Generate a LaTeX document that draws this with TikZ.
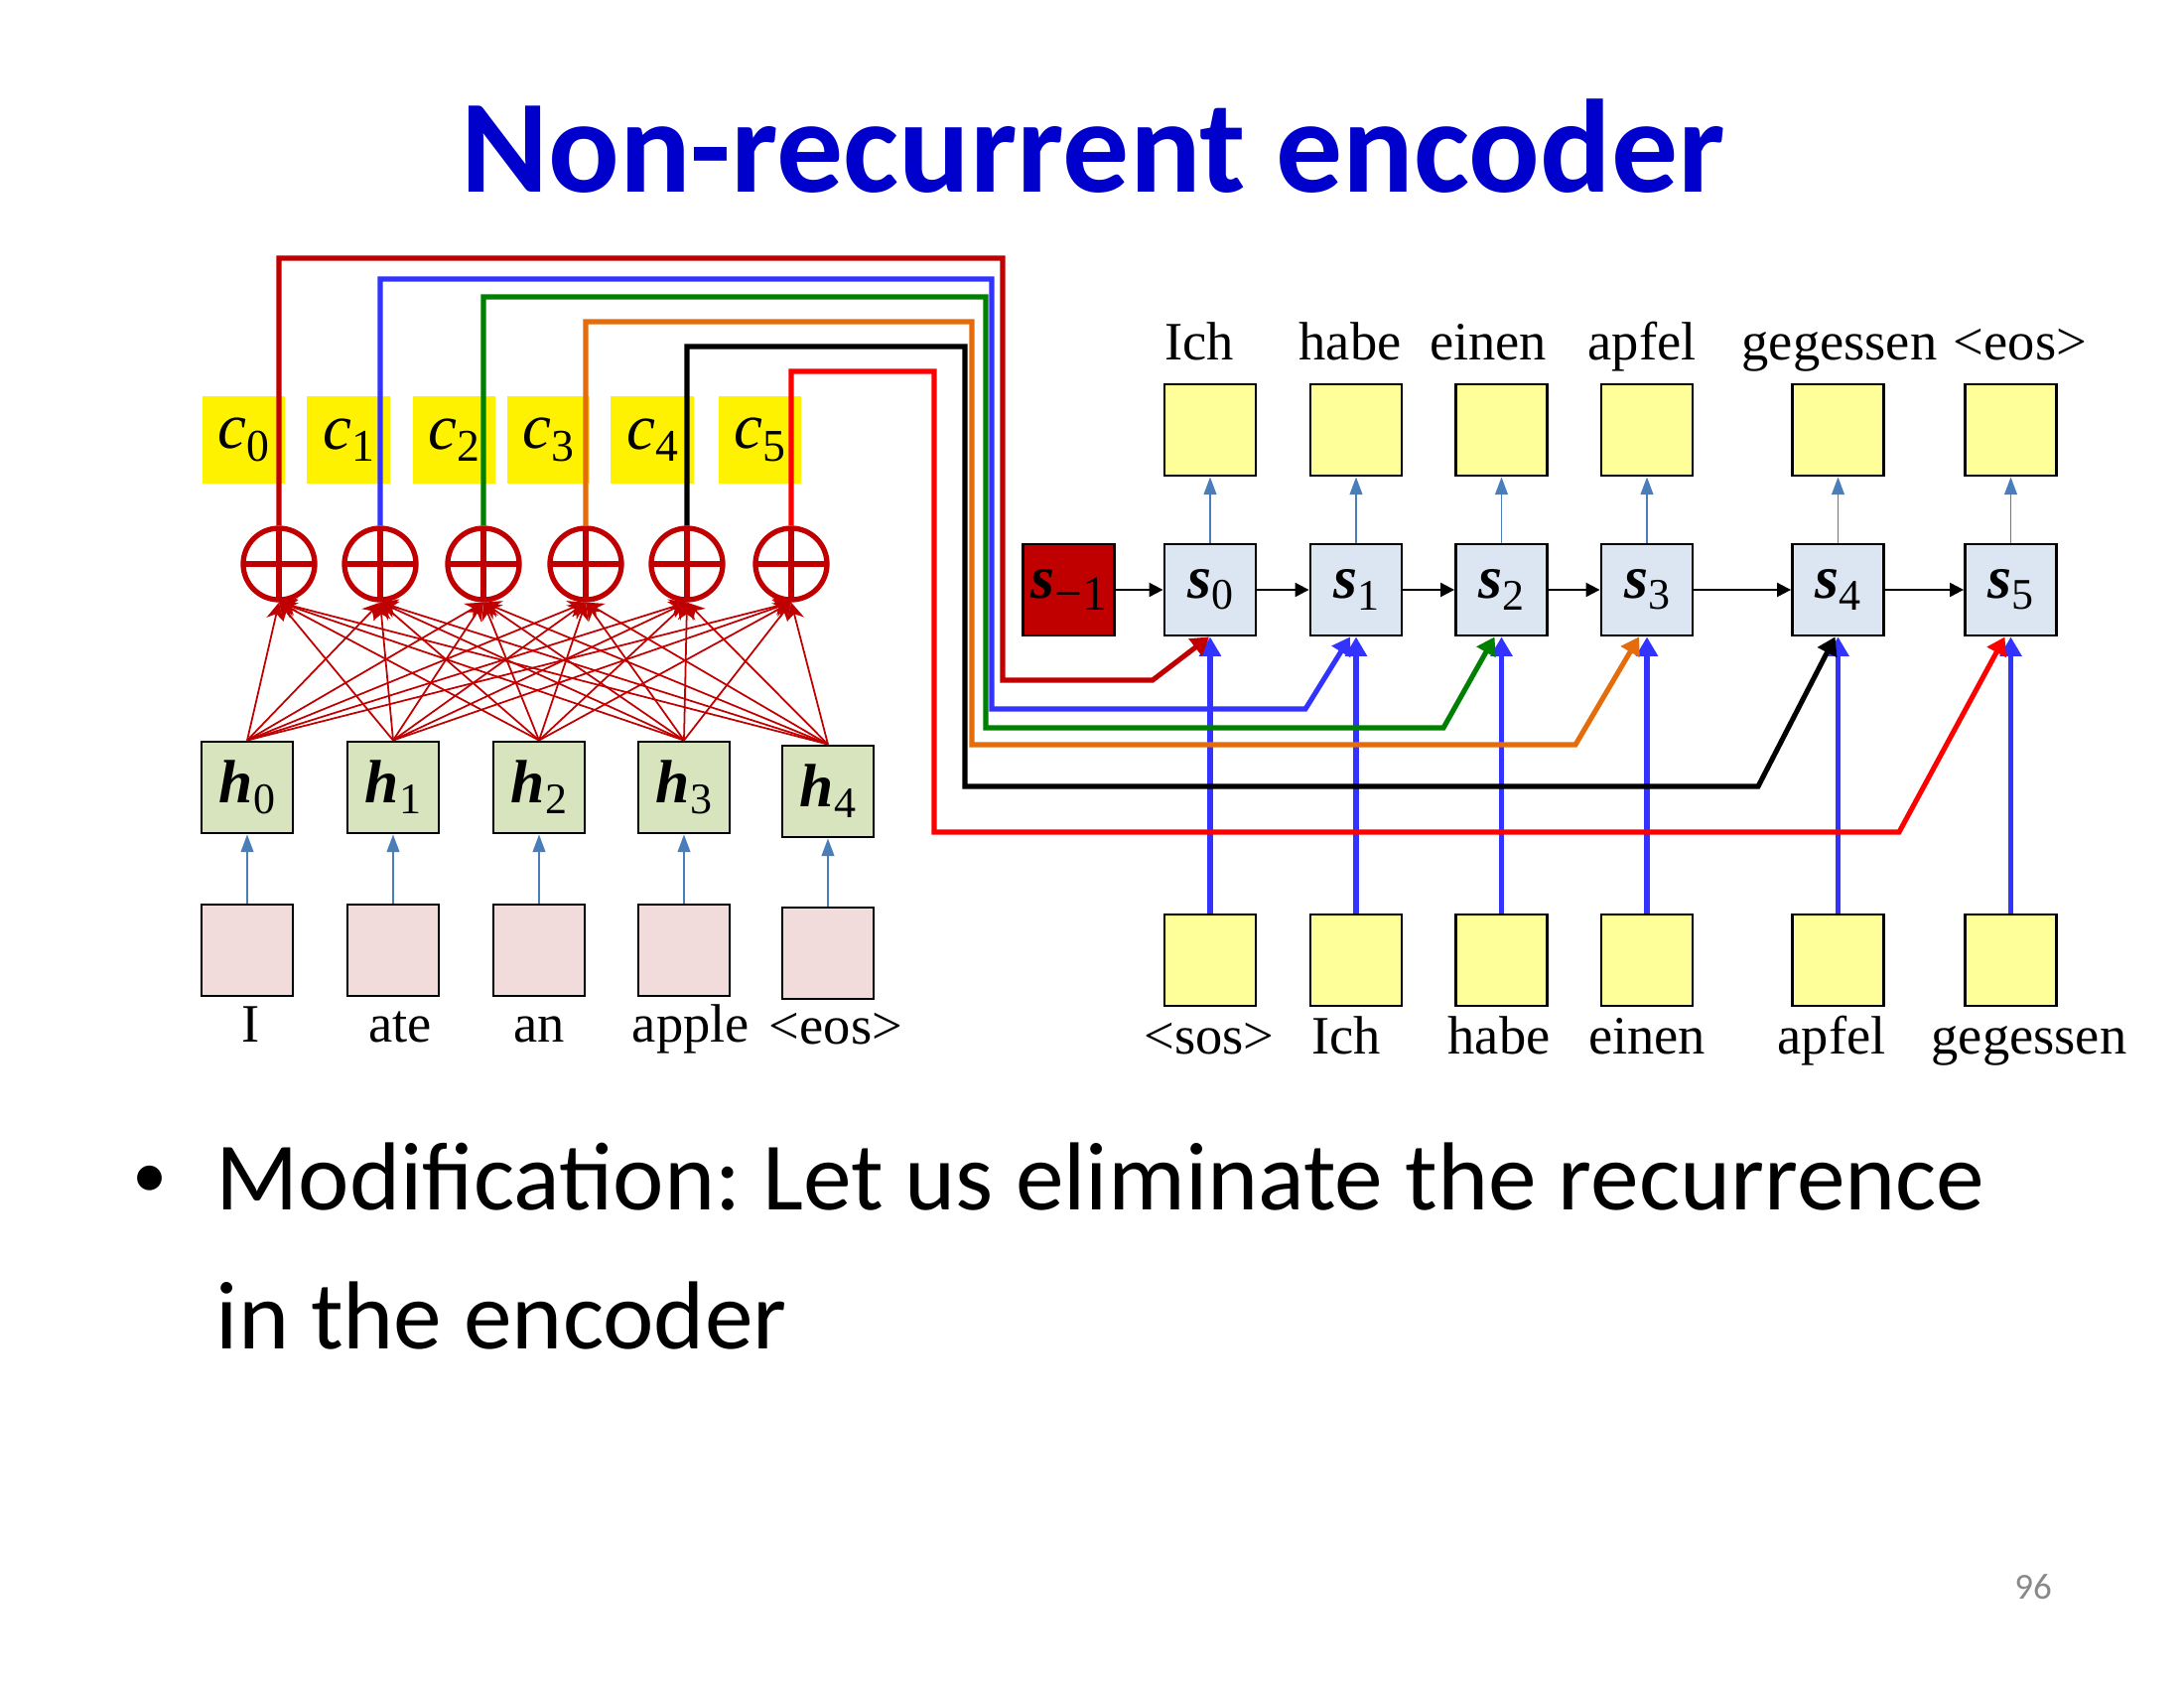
\documentclass[tikz,border=0pt]{standalone}
\usepackage{fontspec}
\setmainfont{Liberation Serif}
\newfontfamily\calibri{Carlito}
\usetikzlibrary{arrows.meta}
\frenchspacing

\definecolor{dred}{HTML}{C00000}
\definecolor{cblue}{HTML}{3333FF}
\definecolor{cgreen}{HTML}{008000}
\definecolor{corange}{HTML}{E46C0A}
\definecolor{cred}{HTML}{FF0000}
\definecolor{titleblue}{HTML}{0000CC}
\definecolor{hgreen}{HTML}{D7E4BD}
\definecolor{xpink}{HTML}{F2DCDB}
\definecolor{sblue}{HTML}{DCE6F2}
\definecolor{lyellow}{HTML}{FFFF99}
\definecolor{steel}{HTML}{4A7EBB}
\definecolor{pgray}{HTML}{898989}

% bold italic vector name with an upright subscript
\newcommand\bv[2]{{\bfseries\itshape #1}\raisebox{-3.2pt}{\fontsize{12.5}{14}\selectfont #2}}
% italic context name with an upright subscript
\newcommand\cv[2]{{\itshape #1}\raisebox{-3.5pt}{\fontsize{13}{14}\selectfont #2}}

\begin{document}
\begin{tikzpicture}[x=0.01cm,y=-0.01cm,
  cell/.style={draw=black, line width=0.8pt, minimum width=0.92cm, minimum height=0.92cm, inner sep=0pt},
  hcell/.style={cell, fill=hgreen, font=\fontsize{17.5}{20}\selectfont},
  xcell/.style={cell, fill=xpink},
  scell/.style={cell, fill=sblue, font=\fontsize{17.5}{20}\selectfont},
  ycell/.style={cell, fill=lyellow},
  ctx/.style={fill=yellow, minimum width=0.83cm, minimum height=0.88cm, inner sep=0pt, font=\fontsize{18.5}{20}\selectfont},
  plus/.style={circle, draw=dred, line width=1.5pt, minimum size=0.72cm, inner sep=0pt,
    path picture={\draw[dred, line width=1.5pt]
      (path picture bounding box.north) -- (path picture bounding box.south)
      (path picture bounding box.west) -- (path picture bounding box.east);}},
  word/.style={anchor=base, inner sep=0pt, font=\fontsize{15.5}{18}\selectfont},
  fan/.style={dred, line width=0.5pt, -{Stealth[length=5pt,width=5pt]}},
  feed/.style={steel, line width=0.5pt, -{Triangle[length=5pt,width=3.6pt]}},
  chain/.style={black, line width=0.6pt, -{Triangle[length=4pt,width=4pt]}},
  embed/.style={cblue, line width=1.5pt, -{Triangle[length=5.5pt,width=6pt]}},
  route/.style={line width=1.45pt, -{Triangle[length=5pt,width=6pt]}}
]
\useasboundingbox[fill=white] (0,0) rectangle (2200,1700);

% title
\node[anchor=base, inner sep=0pt, text=titleblue] (title) at (1101,194)
  {\calibri\bfseries\fontsize{38}{42}\selectfont Non-recurrent encoder};

% encoder inputs and hidden states
\foreach \i/\x/\yh/\yx in {0/249/793/957, 1/396/793/957, 2/543/793/957, 3/689/793/957, 4/834/797/960}{
  \node[xcell] (x\i) at (\x,\yx) {};
  \node[hcell] (h\i) at (\x,\yh) {\bv{h}{\i}};
  \draw[feed] (x\i.north) -- (h\i.south);
}
\node[word] (w0) at (253,1049) {I};
\node[word] (w1) at (403,1049) {ate};
\node[word] (w2) at (543,1049) {an};
\node[word] (w3) at (696,1049) {apple};
\node[word] (w4) at (842,1051) {<eos>};

% context vectors
\foreach \i/\x in {0/245.5, 1/351, 2/457.5, 3/552.5, 4/657, 5/765.5}{
  \node[ctx] (c\i) at (\x,443) {\cv{c}{\i}};
}

% summation units
\foreach \i/\x in {0/281, 1/383, 2/487, 3/590, 4/692, 5/797}{
  \node[plus] (p\i) at (\x,568) {};
}

% every hidden state feeds every sum
\foreach \i in {0,...,4}{
  \foreach \j in {0,...,5}{
    \draw[fan] (h\i.north) -- (p\j.south);
  }
}

% decoder
\node[cell, fill=dred, font=\fontsize{17.5}{20}\selectfont] (sm) at (1076.5,594) {\bv{s}{\fontsize{14}{14}\selectfont −1}};
\foreach \i/\x in {0/1219, 1/1366, 2/1512.5, 3/1659, 4/1851.5, 5/2025.5}{
  \node[scell] (s\i) at (\x,594) {\bv{s}{\i}};
  \node[ycell] (t\i) at (\x,433) {};
  \node[ycell] (b\i) at (\x,967) {};
  \draw[feed] (s\i.north) -- (t\i.south);
  \draw[embed] (b\i.north) -- (s\i.south);
}
\draw[chain] (sm.east) -- (s0.west);
\draw[chain] (s0.east) -- (s1.west);
\draw[chain] (s1.east) -- (s2.west);
\draw[chain] (s2.east) -- (s3.west);
\draw[chain] (s3.east) -- (s4.west);
\draw[chain] (s4.east) -- (s5.west);

% output words
\node[word] (o0) at (1208,362) {Ich};
\node[word] (o1) at (1360,362) {habe};
\node[word] (o2) at (1499,362) {einen};
\node[word] (o3) at (1654,362) {apfel};
\node[word] (o4) at (1853,362) {gegessen};
\node[word] (o5) at (2035,362) {<eos>};

% decoder input words
\node[word] (i0) at (1218,1061) {<sos>};
\node[word] (i1) at (1356,1061) {Ich};
\node[word] (i2) at (1510,1061) {habe};
\node[word] (i3) at (1659,1061) {einen};
\node[word] (i4) at (1845,1061) {apfel};
\node[word] (i5) at (2044,1061) {gegessen};

% context routes into the decoder states
\foreach \i/\col/\ytop/\xr/\ybot/\xb/\sh in {
  0/dred/260/1010/685/1161/-1,
  1/cblue/281/999/714/1315/-6,
  2/cgreen/299/993/733/1454/-7,
  3/corange/324/979/750/1587/-8,
  4/black/349/972/792/1771/-3,
  5/cred/374/941/838/1913/-6}{
  \draw[route, color=\col] (p\i.north) |- (\xr,\ytop) |- (\xb,\ybot) -- ([xshift=\sh*0.01cm]s\i.south);
}

% bullet text
\node[anchor=base, inner sep=0pt] (bul) at (151,1206) {\calibri\fontsize{20}{24}\selectfont •};
\node[anchor=base west, inner sep=0pt] (l1) at (217,1218)
  {\calibri\fontsize{27.7}{34}\selectfont Modification: Let us eliminate the recurrence};
\node[anchor=base west, inner sep=0pt] (l2) at (217,1358)
  {\calibri\fontsize{27.7}{34}\selectfont in the encoder};

% slide number
\node[anchor=base, inner sep=0pt, text=pgray] (num) at (2048,1610) {\calibri\fontsize{10.5}{12}\selectfont 96};
\end{tikzpicture}
\end{document}
